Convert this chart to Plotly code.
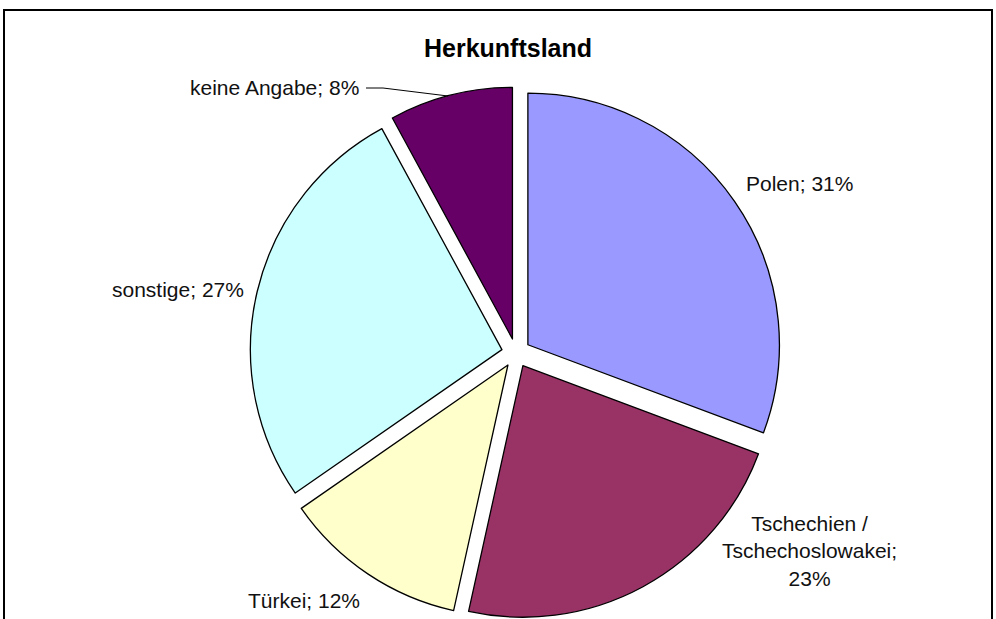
import plotly.graph_objects as go

# data
labels = ["Polen", "Tschechien /<br>Tschechoslowakei", "Türkei", "sonstige", "keine Angabe"]
shares = [31, 23, 12, 27, 8]
colors = ["#9999FF", "#993366", "#FFFFCC", "#CCFFFF", "#660066"]

W, H = 996, 619


def px_x(x):
    return x / W


def px_y(y):
    return min(1.0, max(0.0, 1 - y / H))


PULL = 0.0575
CX, CY, R = 516, 353, 252
half = min(R * (1 + PULL), H - CY)

fig = go.Figure(
    go.Pie(
        labels=labels,
        values=shares,
        sort=False,
        direction="clockwise",
        rotation=0,
        pull=[PULL] * len(shares),
        marker=dict(colors=colors, line=dict(color="black", width=1.3)),
        textinfo="none",
        hoverinfo="label+value",
        showlegend=False,
        domain=dict(x=[px_x(CX - half), px_x(CX + half)],
                    y=[px_y(CY + half), px_y(CY - half)]),
    )
)

# label placement (pixel positions in the reference)
label_pos = [(799, 183, "center"), (809, 551, "center"), (304, 600, "center"),
             (178, 289, "center"), (361, 87, "right")]
for lab, val, (x, y, anchor) in zip(labels, shares, label_pos):
    text = f"{lab};<br>{val}%" if "<br>" in lab else f"{lab}; {val}%"
    fig.add_annotation(
        x=px_x(x), y=px_y(y), xref="paper", yref="paper",
        text=text, showarrow=False, xanchor=anchor, yanchor="middle",
        font=dict(family="Liberation Sans, Arial", size=21, color="#111111"),
    )

# leader line for "keine Angabe"
fig.add_shape(
    type="path", xref="paper", yref="paper",
    path=f"M {px_x(366)} {px_y(88)} L {px_x(383)} {px_y(88)} L {px_x(448)} {px_y(96)}",
    line=dict(color="black", width=1),
)

# chart frame (bottom edge runs off the page)
fig.add_shape(
    type="rect", xref="paper", yref="paper",
    x0=px_x(4), x1=px_x(992), y0=-0.2, y1=px_y(10),
    line=dict(color="black", width=2),
)

fig.update_layout(
    width=W, height=H,
    margin=dict(l=0, r=0, t=0, b=0),
    paper_bgcolor="white",
    title=dict(
        text="<b>Herkunftsland</b>", x=px_x(508), xanchor="center",
        y=px_y(48), yanchor="middle",
        font=dict(family="Liberation Sans, Arial", size=25, color="black"),
    ),
)

# drop the default body margin so the figure sits at the page origin
fig.write_html("out.html", config={"displayModeBar": False},
               post_script="document.body.style.margin='0';")
